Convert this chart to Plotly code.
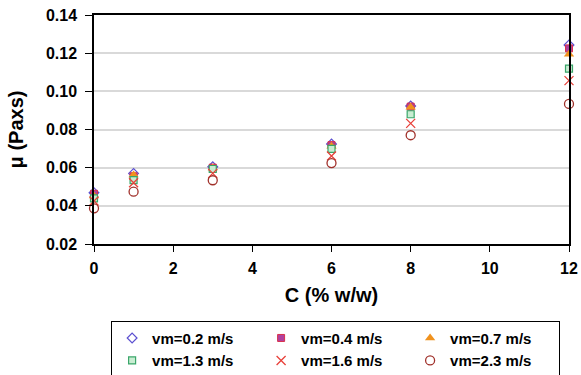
import plotly.graph_objects as go

C = [0, 1, 3, 6, 8, 12]
series_names = ["vm=0.2 m/s", "vm=0.4 m/s", "vm=0.7 m/s", "vm=1.3 m/s", "vm=1.6 m/s", "vm=2.3 m/s"]
mu_02 = [0.0469, 0.0570, 0.0605, 0.0724, 0.0923, 0.1243]
mu_04 = [0.0463, 0.0555, 0.0600, 0.0718, 0.0920, 0.1225]
mu_07 = [0.0452, 0.0562, 0.0598, 0.0712, 0.0916, 0.1194]
mu_13 = [0.0439, 0.0535, 0.0593, 0.0698, 0.0880, 0.1119]
mu_16 = [0.0425, 0.0521, 0.0570, 0.0661, 0.0832, 0.1056]
mu_23 = [0.0387, 0.0474, 0.0534, 0.0624, 0.0770, 0.0934]
y_ticks = [0.02, 0.04, 0.06, 0.08, 0.10, 0.12, 0.14]
x_ticks = [0, 2, 4, 6, 8, 10, 12]

styles = [
    dict(symbol="diamond-open", color="#5b4fd0", size=7.5, line=dict(width=1.2, color="#5b4fd0")),
    dict(symbol="square", color="#b0409e", size=7, line=dict(width=1, color="#d8304a")),
    dict(symbol="triangle-up", color="#f0921e", size=9, line=dict(width=0)),
    dict(symbol="square", color="#c9edd2", size=7, line=dict(width=1.2, color="#3aa66a")),
    dict(symbol="x-thin", color="#e8413a", size=9, line=dict(width=1.3, color="#e8413a")),
    dict(symbol="circle", color="white", size=9, line=dict(width=1.3, color="#a0302a")),
]
data = [mu_02, mu_04, mu_07, mu_13, mu_16, mu_23]

fig = go.Figure()
for name, ys, st in zip(series_names, data, styles):
    fig.add_trace(go.Scatter(x=C, y=ys, mode="markers", name=name, marker=st, cliponaxis=False))

font = dict(family="Liberation Sans, Arial, sans-serif", color="black", weight="bold")
fig.update_layout(
    width=581, height=375,
    margin=dict(l=94, r=12, t=15, b=131, autoexpand=False),
    paper_bgcolor="white", plot_bgcolor="white",
    font=dict(**font, size=16),
    showlegend=True,
    legend=dict(
        orientation="h", x=0.036, xanchor="left", y=-0.335, yanchor="top",
        bordercolor="black", borderwidth=1, bgcolor="white",
        font=dict(**font, size=15),
        entrywidth=104, entrywidthmode="pixels",
        itemwidth=30, tracegroupgap=0,
    ),
)
fig.update_xaxes(
    range=[0, 12], tickvals=x_ticks, ticks="outside", ticklen=6, tickcolor="black",
    showline=True, linecolor="black", linewidth=1.5, mirror=True, showgrid=False, zeroline=False,
    title=dict(text="C (% w/w)", font=dict(**font, size=20), standoff=12),
    tickfont=dict(**font, size=16), automargin=False, ticklabelstandoff=3,
)
fig.update_yaxes(
    range=[0.02, 0.14], tickvals=y_ticks, tickformat=".2f", ticks="outside", ticklen=7, tickcolor="black",
    showline=True, linecolor="black", linewidth=1.5, mirror=True,
    showgrid=True, gridcolor="#d9d9d9", gridwidth=1.5, zeroline=False,
    title=dict(text="μ (Paxs)", font=dict(**font, size=20), standoff=17),
    tickfont=dict(**font, size=16), automargin=False, ticklabelstandoff=5,
)
fig.write_html("out.html", config={"displayModeBar": False},
               post_script="document.body.style.margin='0px';document.body.style.overflow='hidden';")
